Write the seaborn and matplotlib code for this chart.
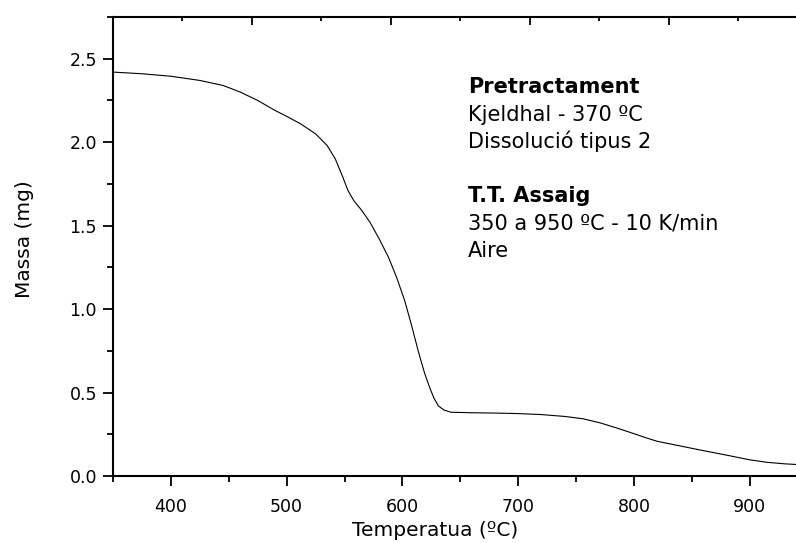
import matplotlib
matplotlib.use("Agg")
import matplotlib.pyplot as plt
import seaborn as sns
import pandas as pd
from matplotlib.ticker import MultipleLocator, FixedLocator, NullFormatter, FormatStrFormatter

# ---- data ----
temperature = [350, 375, 400, 425, 445, 460, 475, 490, 500, 512, 525, 535, 542,
               548, 553, 558, 565, 572, 580, 588, 595, 602, 608, 614, 619, 623,
               627, 631, 636, 642, 660, 680, 700, 720, 740, 756, 771, 785, 799,
               810, 820, 840, 857, 880, 900, 915, 930, 940]
mass = [2.42, 2.41, 2.395, 2.37, 2.34, 2.30, 2.25, 2.19, 2.155, 2.11, 2.05, 1.98,
        1.90, 1.80, 1.71, 1.65, 1.59, 1.52, 1.42, 1.31, 1.19, 1.05, 0.90, 0.74,
        0.62, 0.54, 0.47, 0.42, 0.395, 0.382, 0.379, 0.377, 0.374, 0.368, 0.357,
        0.343, 0.318, 0.288, 0.256, 0.23, 0.208, 0.18, 0.156, 0.125, 0.097,
        0.082, 0.073, 0.069]
top_major_ticks = [470, 590, 710, 830]
top_minor_ticks = [410, 530, 650, 770, 890]
x_label = "Temperatua (ºC)"
y_label = "Massa (mg)"
annot_lines = [("Pretractament", "bold"), ("Kjeldhal - 370 ºC", "normal"),
               ("Dissolució tipus 2", "normal"), ("T.T. Assaig", "bold"),
               ("350 a 950 ºC - 10 K/min", "normal"), ("Aire", "normal")]
annot_y = [0.8355, 0.7745, 0.7146, 0.5969, 0.5381, 0.4782]

sns.set_style("ticks")
plt.rcParams['font.family'] = ['DejaVu Sans']
plt.rcParams['text.color'] = 'black'
plt.rcParams['axes.labelcolor'] = 'black'

df = pd.DataFrame({"T": temperature, "m": mass})

fig = plt.figure(figsize=(7.96, 5.43), dpi=100)
ax = fig.add_axes([113/796, (543-476)/543, 683/796, 459/543])
sns.lineplot(data=df, x="T", y="m", ax=ax, color="black", linewidth=0.8,
             sort=False, estimator=None)

ax.set_xlim(350, 940)
ax.set_ylim(0, 2.75)
ax.xaxis.set_major_locator(MultipleLocator(100))
ax.xaxis.set_minor_locator(MultipleLocator(50))
ax.yaxis.set_major_locator(MultipleLocator(0.5))
ax.yaxis.set_minor_locator(MultipleLocator(0.25))
ax.yaxis.set_major_formatter(FormatStrFormatter('%.1f'))

for s in ["left", "bottom"]:
    ax.spines[s].set_linewidth(1.5)
    ax.spines[s].set_color("black")
ax.spines["right"].set_visible(False)
ax.spines["top"].set_visible(False)

ax.tick_params(axis="both", which="major", direction="out", length=7.5, width=1.3,
               labelsize=12.5, colors="black")
ax.tick_params(axis="both", which="minor", direction="out", length=4, width=1.3,
               colors="black")
ax.tick_params(axis="x", which="major", pad=8)
ax.tick_params(axis="y", which="major", pad=4)

sec = ax.secondary_xaxis("top")
sec.spines["top"].set_linewidth(1.5)
sec.spines["top"].set_color("black")
sec.xaxis.set_major_locator(FixedLocator(top_major_ticks))
sec.xaxis.set_minor_locator(FixedLocator(top_minor_ticks))
sec.xaxis.set_major_formatter(NullFormatter())
sec.tick_params(axis="x", which="major", direction="in", length=6, width=1.3, colors="black")
sec.tick_params(axis="x", which="minor", direction="in", length=3, width=1.3, colors="black")

ax.set_xlabel(x_label, fontsize=14.5, va="center")
ax.set_ylabel(y_label, fontsize=14.5, va="center")
ax.xaxis.set_label_coords(0.471, -0.118)
ax.yaxis.set_label_coords(-0.130, 0.517)

for (txt, wt), yy in zip(annot_lines, annot_y):
    ax.text(0.52, yy, txt, transform=ax.transAxes, fontsize=15, fontweight=wt,
            va="baseline", ha="left", color="black")

fig.savefig("out.png", dpi=100)
